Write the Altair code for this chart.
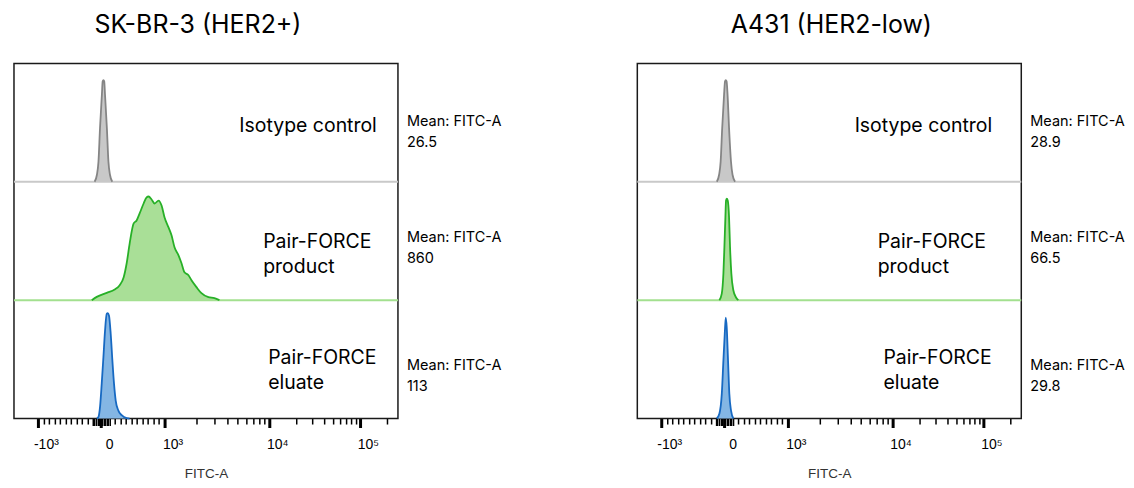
import altair as alt
import pandas as pd
import math

# ---------------- data (x in display-channel units 0..1000 of the biexponential FITC-A axis,
# y in % of the row height) ----------------
TICK_LABELS = ["-10³", "0", "10³", "10⁴", "10⁵"]
TICK_POS = [62.3, 227.2, 392.2, 664.8, 901.2]

SAMPLES = ["Isotype control", "Pair-FORCE product", "Pair-FORCE eluate"]
SAMPLE_TEXT = ["Isotype control", "Pair-FORCE\nproduct", "Pair-FORCE\neluate"]
ROW_BASE = [200, 100, 0]

# SK-BR-3 (HER2+)
L_GRAY_X = [210, 216, 220, 224, 229, 231, 233, 235, 237, 242, 246, 250, 256]
L_GRAY_Y = [0, 6, 17, 45, 74, 85, 86, 85, 74, 45, 17, 6, 0]
L_GREEN_X = [202.6, 215.6, 241.5, 262.3, 275.3, 285.7, 293.5, 301.3, 311.7, 319.4, 327.2,
             337.6, 345.4, 350.6, 358.4, 366.2, 376.6, 384.4, 392.2, 402.5, 410.3, 418.1,
             428.5, 436.3, 444.1, 454.5, 462.3, 475.3, 488.2, 506.4, 522.0, 535.0]
L_GREEN_Y = [0, 2.8, 6.2, 9.0, 12.6, 19.4, 31.2, 48.0, 64.9, 67.4, 73.3, 81.7, 86.8, 87.6,
             85.1, 81.7, 84.2, 80.0, 69.9, 61.5, 54.8, 44.7, 37.9, 31.2, 23.6, 21.1, 16.8,
             11.0, 5.9, 2.5, 1.7, 0]
L_BLUE_X = [215.6, 220, 224.1, 228.5, 232.9, 237.1, 241.5, 244.1, 247.5, 251.9, 256.3,
            260.5, 264.9, 271.9, 280.5, 293.5, 301.2]
L_BLUE_Y = [0, 1.3, 9.8, 29.5, 51.9, 74.1, 88.5, 89.0, 86.8, 71.6, 48.9, 29.5, 15.2, 6.7,
            2.8, 0.3, 0]
L_MEANS = ["26.5", "860", "113"]

# A431 (HER2-low)
R_GRAY_X = [207, 213, 217, 221, 226, 228.5, 230.4, 232.5, 235, 239, 244, 248, 254.5]
R_GRAY_Y = [0, 6, 17, 45, 74, 85, 86, 85, 74, 45, 17, 6, 0]
R_GREEN_X = [213.7, 220, 224.2, 226.8, 229.4, 231.1, 232.9, 235.5, 238.9, 241.5, 244.9,
             250.1, 257.1, 263.1]
R_GREEN_Y = [0, 5.6, 22.5, 44.9, 70.2, 84.2, 85.7, 84.2, 70.2, 44.9, 22.5, 8.4, 2.3, 0]
R_BLUE_X = [207, 213.7, 220, 224.2, 227.7, 230.4, 232.9, 236.3, 239.7, 244.1, 250.1]
R_BLUE_Y = [0, 4, 20.8, 48.9, 71.4, 85.3, 76.9, 48.9, 20.8, 6.7, 0]
R_MEANS = ["28.9", "66.5", "29.8"]

# ---------------- styling ----------------
FILLS = ["#c8c8c8", "#a9df97", "#84b6e4"]
STROKES = ["#858585", "#27b027", "#1769c2"]
BASELINE_COLORS = ["#c9c9c9", "#a3e08f"]
W, H = 385, 356
FONT = "Inter"

# axis ticks: majors, linear minors between -10^3 and 10^3, dense cluster near 0, log minors
lin_step = (TICK_POS[2] - TICK_POS[0]) / 23
minor = [TICK_POS[0] + lin_step * k for k in list(range(1, 10)) + list(range(14, 23))]
cluster = [205 + 4 * k for k in range(12)]
logm = []
for d in range(2, 4):
    a, b = TICK_POS[d], TICK_POS[d + 1]
    logm += [a + math.log10(k) * (b - a) for k in range(2, 10)]
logm.append(TICK_POS[4] + math.log10(2) * (TICK_POS[4] - TICK_POS[3]))
ALL_TICKS = sorted(TICK_POS + [round(v, 2) for v in minor + cluster + logm])

major_test = " || ".join(f"datum.value == {v}" for v in TICK_POS)
cluster_test = "datum.value > 203 && datum.value < 252"
label_expr = "".join(f"datum.value == {v} ? '{t}' : " for v, t in zip(TICK_POS, TICK_LABELS)) + "''"

xaxis = alt.Axis(
    values=ALL_TICKS, tickCount=500, labelExpr=label_expr, grid=False, domain=False,
    tickColor="black",
    tickSize={"condition": [{"test": major_test, "value": 9}, {"test": cluster_test, "value": 7}], "value": 5.5},
    tickWidth={"condition": {"test": major_test, "value": 3}, "value": 1.5},
    labelFont="Liberation Sans", labelFontSize=14, labelColor="black",
    labelAlign="center", labelOffset=8, labelPadding=10, labelOverlap=False, labelFlush=False,
    title="FITC-A", titleFont="Liberation Sans", titleFontSize=13.5, titleFontWeight="normal",
    titleColor="#333333", titlePadding=15,
)
xscale = alt.Scale(domain=[0, 1000], nice=False, zero=False)
yscale = alt.Scale(domain=[0, 300], nice=False, zero=False)

LABEL_Y = [247.0, 149.1, 50.9]
MEAN_Y = [250.3, 152.5, 44.6]


def panel(title, dx, series, means, label_x):
    rows = []
    for name, base, (xs, ys) in zip(SAMPLES, ROW_BASE, series):
        for x, y in zip(xs, ys):
            rows.append({"series": name, "ch": x, "top": base + y, "base": base})
    df = pd.DataFrame(rows)

    rules = alt.layer(*[
        alt.Chart(pd.DataFrame({"y": [yv]})).mark_rule(color=c, strokeWidth=2).encode(
            y=alt.Y("y:Q", scale=yscale, axis=None))
        for yv, c in zip([200, 100], BASELINE_COLORS)
    ])

    area = alt.Chart(df).mark_area(interpolate="monotone", opacity=1).encode(
        x=alt.X("ch:Q", scale=xscale, axis=xaxis),
        y=alt.Y("top:Q", scale=yscale, axis=None),
        y2="base:Q",
        fill=alt.Fill("series:N", scale=alt.Scale(domain=SAMPLES, range=FILLS), legend=None),
    )
    line = alt.Chart(df).mark_line(interpolate="monotone", strokeWidth=1.8).encode(
        x=alt.X("ch:Q", scale=xscale),
        y=alt.Y("top:Q", scale=yscale),
        stroke=alt.Stroke("series:N", scale=alt.Scale(domain=SAMPLES, range=STROKES), legend=None),
    )

    lab_df = pd.DataFrame({"text": SAMPLE_TEXT, "x": label_x, "y": LABEL_Y})
    labels = alt.Chart(lab_df).mark_text(
        align="left", baseline="middle", font=FONT, fontSize=19.5, color="black",
        lineBreak="\n", lineHeight=25,
    ).encode(x=alt.X("x:Q", scale=xscale), y=alt.Y("y:Q", scale=yscale), text="text:N")

    mean_df = pd.DataFrame({"text": [f"Mean: FITC-A\n{m}" for m in means], "y": MEAN_Y})
    mean_txt = alt.Chart(mean_df).mark_text(
        align="left", baseline="middle", font=FONT, fontSize=14.5, color="black",
        lineBreak="\n", lineHeight=21,
    ).encode(x=alt.value(W + 9), y=alt.Y("y:Q", scale=yscale), text="text:N")

    return alt.layer(rules, area, line, labels, mean_txt).properties(
        width=W, height=H,
        title=alt.TitleParams(title, font=FONT, fontSize=25, fontWeight="normal",
                              color="black", anchor="middle", offset=26, dx=dx),
    )


left = panel("SK-BR-3 (HER2+)", -8,
             [(L_GRAY_X, L_GRAY_Y), (L_GREEN_X, L_GREEN_Y), (L_BLUE_X, L_BLUE_Y)],
             L_MEANS, [587, 649, 662])
right = panel("A431 (HER2-low)", 2,
              [(R_GRAY_X, R_GRAY_Y), (R_GREEN_X, R_GREEN_Y), (R_BLUE_X, R_BLUE_Y)],
              R_MEANS, [566, 626, 641])

chart = alt.hconcat(left, right, spacing=240, bounds="flush").configure_view(
    stroke="#1a1a1a", strokeWidth=1.5
).properties(padding={"left": 4, "top": 3, "right": 0, "bottom": 0})

chart.save("out.html", embed_options={"renderer": "svg", "actions": False})
